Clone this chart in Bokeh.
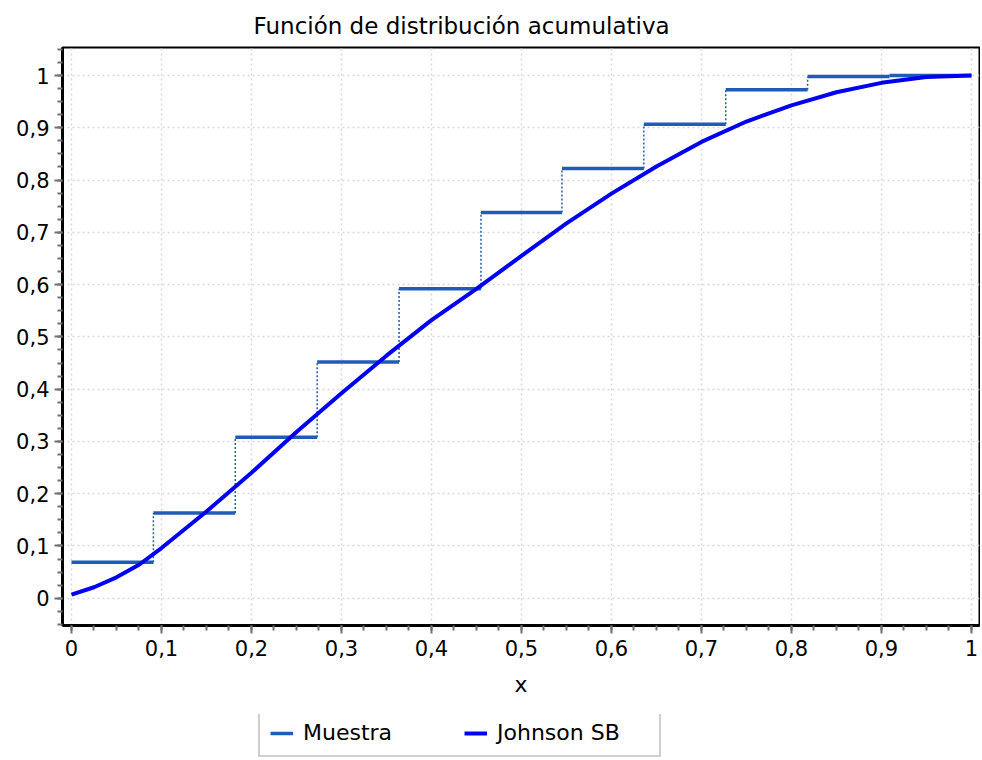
from bokeh.plotting import figure
from bokeh.layouts import column
from bokeh.models import Range1d, FixedTicker, CustomJSTickFormatter, Legend, LegendItem
from bokeh.embed import file_html
from bokeh.resources import INLINE

# ---------------- data ----------------
TITLE = "Función de distribución acumulativa"
X_LABEL = "x"
SERIES_NAMES = ["Muestra", "Johnson SB"]

tick_values = [0.0, 0.1, 0.2, 0.3, 0.4, 0.5, 0.6, 0.7, 0.8, 0.9, 1.0]
tick_labels = ["0", "0,1", "0,2", "0,3", "0,4", "0,5", "0,6", "0,7", "0,8", "0,9", "1"]

# empirical (sample) step function
step_left = [0.0, 0.091, 0.182, 0.273, 0.364, 0.455, 0.545, 0.636, 0.727, 0.818, 0.909]
step_right = [0.091, 0.182, 0.273, 0.364, 0.455, 0.545, 0.636, 0.727, 0.818, 0.909, 1.0]
step_F = [0.069, 0.163, 0.308, 0.452, 0.592, 0.738, 0.822, 0.907, 0.973, 0.998, 1.0]

# fitted Johnson SB CDF
sb_x = [0.0, 0.025, 0.05, 0.075, 0.1, 0.15, 0.2, 0.25, 0.3, 0.35, 0.4, 0.45, 0.5,
        0.55, 0.6, 0.65, 0.7, 0.75, 0.8, 0.85, 0.9, 0.95, 1.0]
sb_F = [0.007, 0.021, 0.040, 0.064, 0.096, 0.166, 0.240, 0.318, 0.392, 0.464, 0.532, 0.592, 0.655,
        0.717, 0.774, 0.826, 0.873, 0.912, 0.943, 0.968, 0.986, 0.997, 1.0]

# ---------------- style ----------------
FONT = "DejaVu Sans"
STEP_COLOR = "#1f5cb8"
SB_COLOR = "#0000f0"
TICK_COLOR = "#707070"
GRID_COLOR = "#d8d8d8"
W = 980

p = figure(width=W, height=714, output_backend="svg", toolbar_location=None,
           x_range=Range1d(-0.01, 1.009), y_range=Range1d(-0.0522, 1.0536),
           min_border_left=62, min_border_right=1, min_border_top=47, min_border_bottom=89,
           title=TITLE)
p.background_fill_color = "white"
p.border_fill_color = "white"
p.outline_line_color = "black"
p.outline_line_width = 2
p.outline_line_alpha = 1.0

p.title.text_font = FONT
p.title.text_font_size = "23px"
p.title.text_font_style = "normal"
p.title.text_color = "black"
p.title.align = "left"
p.title.offset = 191
p.title.standoff = 18

minor_values = [round(-0.05 + 0.025 * i, 3) for i in range(47)]
fmt_code = """
for (let i = 0; i < values.length; i++) {
  if (Math.abs(values[i] - tick) < 1e-6) return labels[i];
}
return tick.toFixed(1).replace('.', ',');
"""
for ax in (p.xaxis[0], p.yaxis[0]):
    ax.ticker = FixedTicker(ticks=tick_values, minor_ticks=minor_values)
    ax.formatter = CustomJSTickFormatter(args=dict(values=tick_values, labels=tick_labels), code=fmt_code)
    ax.major_label_text_font = FONT
    ax.major_label_text_font_size = "21px"
    ax.major_label_text_color = "black"
    ax.axis_line_color = "black"
    ax.axis_line_width = 3
    ax.major_tick_line_color = TICK_COLOR
    ax.major_tick_line_width = 2
    ax.major_tick_out = 8
    ax.major_tick_in = 0
    ax.minor_tick_line_color = TICK_COLOR
    ax.minor_tick_line_width = 2
    ax.minor_tick_out = 5
    ax.minor_tick_in = 0

p.xaxis.major_label_standoff = 6
p.yaxis.major_label_standoff = 5
p.xaxis.axis_label = X_LABEL
p.xaxis.axis_label_text_font = FONT
p.xaxis.axis_label_text_font_size = "22px"
p.xaxis.axis_label_text_font_style = "normal"
p.xaxis.axis_label_text_color = "black"
p.xaxis.axis_label_standoff = 13

for g in (p.xgrid[0], p.ygrid[0]):
    g.grid_line_color = GRID_COLOR
    g.grid_line_dash = "2 3"
    g.grid_line_width = 1.5

# ---------------- marks ----------------
p.segment(x0=step_left, x1=step_right, y0=step_F, y1=step_F,
          line_color=STEP_COLOR, line_width=3.5)
p.segment(x0=step_left[1:], x1=step_left[1:], y0=step_F[:-1], y1=step_F[1:],
          line_color=STEP_COLOR, line_width=1.5, line_dash="2 2")
p.line(sb_x, sb_F, line_color=SB_COLOR, line_width=4)

# ---------------- legend strip below the chart ----------------
# (same series re-plotted out of view; only their legend glyphs are shown)
q = figure(width=W, height=44, output_backend="svg", toolbar_location=None,
           x_range=Range1d(5, 6), y_range=Range1d(5, 6),
           x_axis_type=None, y_axis_type=None, min_border=0,
           outline_line_color=None)
q.background_fill_color = "white"
q.border_fill_color = "white"
lg_steps = q.segment(x0=step_left, x1=step_right, y0=step_F, y1=step_F,
                     line_color=STEP_COLOR, line_width=3.5)
lg_sb = q.line(sb_x, sb_F, line_color=SB_COLOR, line_width=4)

legend = Legend(items=[LegendItem(label=SERIES_NAMES[0], renderers=[lg_steps]),
                       LegendItem(label=SERIES_NAMES[1], renderers=[lg_sb])],
                orientation="horizontal", location=(196, 1), margin=0, padding=10,
                spacing=9, label_width=152, glyph_width=23, label_standoff=10,
                border_line_color="#a0a0a0", border_line_width=2,
                label_text_font=FONT, label_text_font_size="22px",
                label_text_color="black",
                background_fill_color="white", background_fill_alpha=1.0)
q.add_layout(legend, "center")

layout = column(p, q, spacing=0)
open("out.html", "w").write(file_html(layout, INLINE))
